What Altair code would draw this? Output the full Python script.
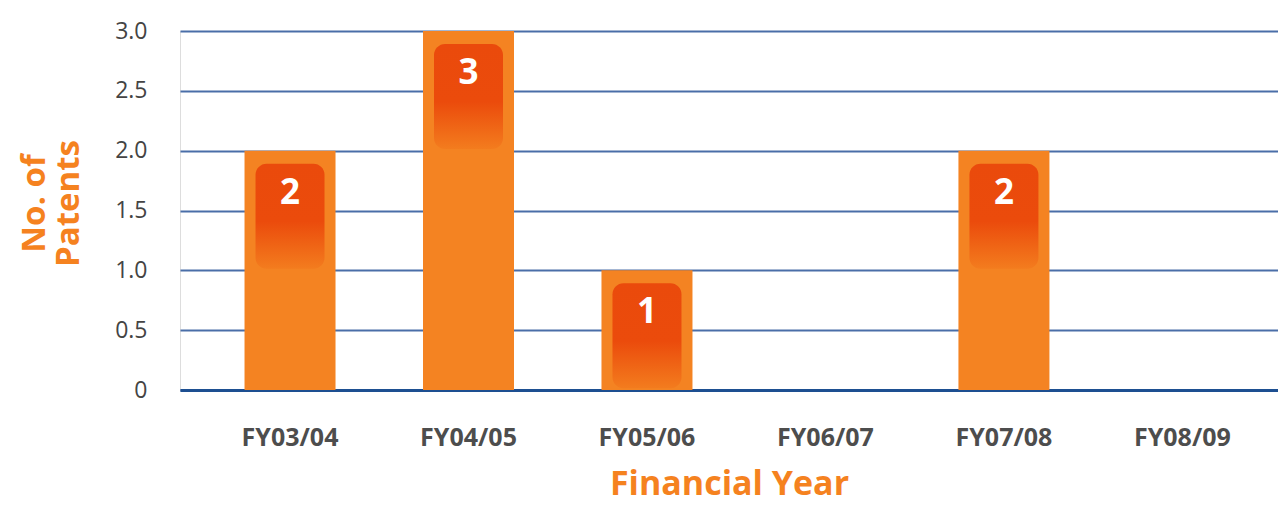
import altair as alt
import pandas as pd

years = ["FY03/04", "FY04/05", "FY05/06", "FY06/07", "FY07/08", "FY08/09"]
patents = [2, 3, 1, 0, 2, 0]

df = pd.DataFrame({"year": years, "patents": patents})

ORANGE = "#F48322"
TITLE_ORANGE = "#F5821F"

x_enc = alt.X(
    "year:N",
    sort=years,
    scale=alt.Scale(paddingInner=0.49, paddingOuter=0.321, align=0.563),
    axis=alt.Axis(
        title="Financial Year",
        labelAngle=0,
        labelFont="Open Sans",
        labelFontSize=25,
        labelFontWeight="bold",
        labelColor="#4d4d4d",
        labelPadding=35,
        ticks=False,
        domain=True,
        domainColor="#1d4f91",
        domainWidth=3,
        titleFont="Open Sans",
        titleFontSize=34,
        titleFontWeight="bold",
        titleColor=TITLE_ORANGE,
        titlePadding=17,
    ),
)

y_scale = alt.Scale(domain=[0, 3], nice=False)

bars = alt.Chart(df).mark_bar(color=ORANGE, size=91).encode(
    x=x_enc,
    y=alt.Y(
        "patents:Q",
        scale=y_scale,
        axis=alt.Axis(
            title=["No. of", "Patents"],
            values=[0, 0.5, 1.0, 1.5, 2.0, 2.5, 3.0],
            labelExpr="datum.value == 0 ? '0' : format(datum.value, '.1f')",
            labelFont="Open Sans",
            labelFontSize=23,
            labelColor="#444444",
            labelPadding=33,
            ticks=False,
            domain=False,
            grid=True,
            gridColor="#4a6ea8",
            gridWidth=2,
            titleFont="Open Sans",
            titleFontSize=33,
            titleFontWeight="bold",
            titleColor=TITLE_ORANGE,
            titleAngle=270,
            titleLineHeight=34,
            titleBaseline="middle",
            titleAlign="center",
            titleX=-146,
            titleY=172,
        ),
    ),
)

gradient = alt.Gradient(
    gradient="linear",
    x1=0, y1=0, x2=0, y2=1,
    stops=[
        alt.GradientStop(offset=0, color="#EA4A0C"),
        alt.GradientStop(offset=0.55, color="#EB4B0C"),
        alt.GradientStop(offset=1, color="#F37C1E"),
    ],
)

boxes = alt.Chart(df).transform_filter("datum.patents > 0").mark_bar(
    width=69, cornerRadius=11, yOffset=13, y2Offset=118, fill=gradient
).encode(
    x=alt.X("year:N", sort=years),
    y=alt.Y("patents:Q", scale=y_scale),
    y2=alt.Y2("patents:Q"),
)

labels = alt.Chart(df).transform_filter("datum.patents > 0").mark_text(
    font="Open Sans", fontSize=35, fontWeight="bold", color="white",
    baseline="middle", dy=42,
).encode(
    x=alt.X("year:N", sort=years),
    y=alt.Y("patents:Q", scale=y_scale),
    text=alt.Text("patents:Q"),
)

chart = alt.layer(bars, boxes, labels).properties(
    width=1098,
    height=359,
    autosize=alt.AutoSizeParams(type="none"),
    padding={"left": 172, "top": 23, "right": 0, "bottom": 114},
).configure_view(stroke=None).configure(background="white")

chart.save("out.html", embed_options={"renderer": "svg", "actions": False})
